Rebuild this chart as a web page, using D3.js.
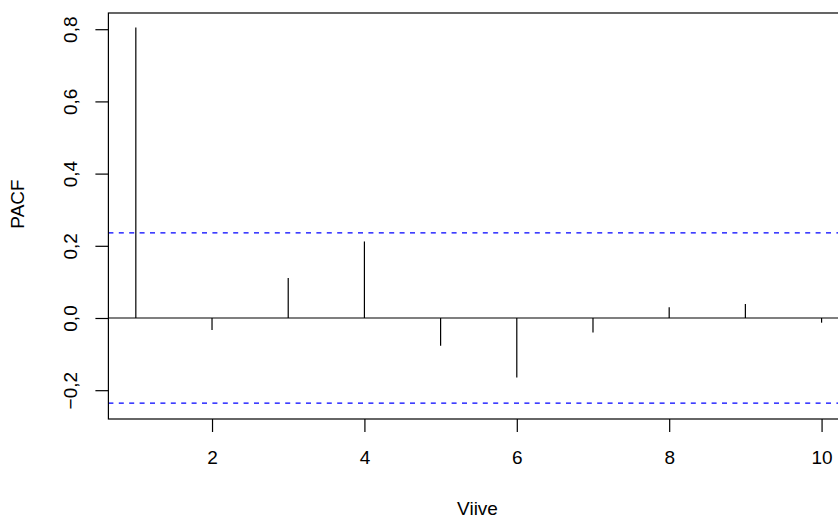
<!DOCTYPE html>
<html>
<head>
<meta charset="utf-8">
<script src="https://cdn.jsdelivr.net/npm/d3@7"></script>
<style>
  html, body { margin: 0; padding: 0; background: #fff; }
  svg { display: block; }
  text { font-family: "Liberation Sans", Arial, Helvetica, sans-serif; fill: #000; }
</style>
</head>
<body>
<svg id="chart" width="838" height="519"></svg>
<script>
// ---- data ----
const lags = [1, 2, 3, 4, 5, 6, 7, 8, 9, 10];
const pacfValues = [0.805, -0.033, 0.111, 0.212, -0.077, -0.165, -0.040, 0.030, 0.039, -0.013];
const confLimit = 0.236;
const xTicks = [2, 4, 6, 8, 10];
const yTicks = [-0.2, 0, 0.2, 0.4, 0.6, 0.8];
const xLabel = "Viive";
const yLabel = "PACF";

// ---- layout ----
const plotL = 108.4, plotR = 849, plotT = 13, plotB = 419;
const svg = d3.select("#chart");

const x = d3.scaleLinear().domain([0.64, 10.36]).range([plotL, plotR]);
const y = d3.scaleLinear().domain([-0.2798, 0.8449]).range([plotB, plotT]);

const fmt = v => (v < 0 ? "\u2212" : "") + Math.abs(v).toFixed(1).replace(".", ",");

// confidence lines
svg.selectAll("line.conf").data([confLimit, -confLimit]).enter().append("line")
  .attr("class", "conf")
  .attr("x1", plotL).attr("x2", plotR)
  .attr("y1", d => y(d)).attr("y2", d => y(d))
  .attr("stroke", "#0000ff").attr("stroke-width", 1.3)
  .attr("stroke-dasharray", "5,5.4");

// zero line
svg.append("line")
  .attr("x1", plotL).attr("x2", plotR)
  .attr("y1", y(0)).attr("y2", y(0))
  .attr("stroke", "#000").attr("stroke-width", 1.2);

// spikes
svg.selectAll("line.spike").data(lags).enter().append("line")
  .attr("class", "spike")
  .attr("x1", d => x(d)).attr("x2", d => x(d))
  .attr("y1", y(0)).attr("y2", (d, i) => y(pacfValues[i]))
  .attr("stroke", "#000").attr("stroke-width", 1.2);

// box
svg.append("rect")
  .attr("x", plotL).attr("y", plotT)
  .attr("width", plotR - plotL).attr("height", plotB - plotT)
  .attr("fill", "none").attr("stroke", "#000").attr("stroke-width", 1.2);

// x axis
const xAxis = d3.axisBottom(x).tickValues(xTicks).tickSize(13).tickPadding(19)
  .tickFormat(d => String(d));
const gx = svg.append("g").attr("transform", `translate(0,${plotB})`).call(xAxis);
gx.select(".domain").remove();
gx.selectAll(".tick line").attr("stroke", "#000").attr("stroke-width", 1.2);
gx.selectAll(".tick text").attr("font-size", 19).attr("font-family", "Liberation Sans, Arial, sans-serif").attr("fill", "#000");

// y axis
const yAxis = d3.axisLeft(y).tickValues(yTicks).tickSize(13).tickFormat(fmt);
const gy = svg.append("g").attr("transform", `translate(${plotL},0)`).call(yAxis);
gy.select(".domain").remove();
gy.selectAll(".tick line").attr("stroke", "#000").attr("stroke-width", 1.2);
gy.selectAll(".tick text")
  .attr("font-size", 19).attr("font-family", "Liberation Sans, Arial, sans-serif").attr("fill", "#000")
  .attr("x", null).attr("dy", null)
  .attr("text-anchor", "middle")
  .attr("transform", "translate(-31,0) rotate(-90)");

// axis titles
svg.append("text")
  .attr("x", 477.5).attr("y", 514.5)
  .attr("text-anchor", "middle").attr("font-size", 19)
  .text(xLabel);

svg.append("text")
  .attr("transform", "translate(24,204) rotate(-90)")
  .attr("text-anchor", "middle").attr("font-size", 19)
  .text(yLabel);
</script>
</body>
</html>
